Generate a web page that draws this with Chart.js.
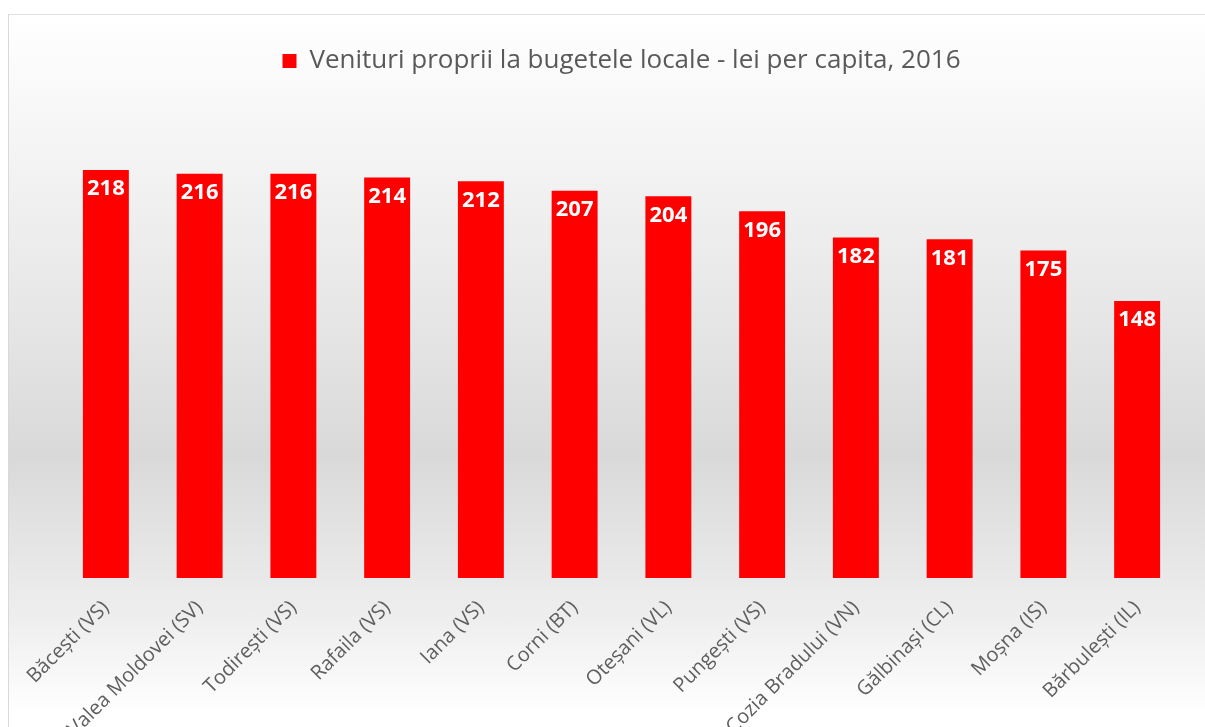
<!DOCTYPE html>
<html lang="ro">
<head>
    <meta charset="UTF-8">
    <title>Venituri proprii la bugetele locale</title>
    <script src="https://cdn.jsdelivr.net/npm/chart.js"></script>
    <style>
        body {
            margin: 0;
            padding: 0;
            background: #ffffff;
            overflow: hidden;
            font-family: 'Open Sans', sans-serif;
        }
        .chart-box {
            position: absolute;
            left: 8px;
            top: 14px;
            width: 1240px;
            height: 760px;
            border-left: 1px solid #d9d9d9;
            border-top: 1px solid #e3e3e3;
            background: linear-gradient(to bottom, #ffffff 0%, #f4f4f4 18%, #e6e6e6 40%, #d9d9d9 58%, #efefef 80%, #ffffff 92%);
        }
    </style>
</head>
<body>
    <div class="chart-box">
        <canvas id="grafic"></canvas>
    </div>
    <script>
        const localitati = ['Băcești (VS)', 'Valea Moldovei (SV)', 'Todirești (VS)', 'Rafaila (VS)', 'Iana (VS)', 'Corni (BT)',
            'Oteșani (VL)', 'Pungești (VS)', 'Cozia Bradului (VN)', 'Gălbinași (CL)', 'Moșna (IS)', 'Bărbulești (IL)'];
        const venituri = [218, 216, 216, 214, 212, 207, 204, 196, 182, 181, 175, 148];
        const eticheta = 'Venituri proprii la bugetele locale - lei per capita, 2016';

        // etichete albe cu valoarea, in varful fiecarei bare
        const valoriPeBare = {
            id: 'valoriPeBare',
            afterDatasetsDraw(chart) {
                const ctx = chart.ctx;
                const meta = chart.getDatasetMeta(0);
                ctx.save();
                ctx.fillStyle = '#ffffff';
                ctx.font = 'bold 22px "Open Sans"';
                ctx.textAlign = 'center';
                ctx.textBaseline = 'middle';
                meta.data.forEach((bar, i) => {
                    ctx.fillText(venituri[i], bar.x, bar.y + 19);
                });
                ctx.restore();
            }
        };

        const ctx = document.getElementById('grafic').getContext('2d');
        new Chart(ctx, {
            type: 'bar',
            data: {
                labels: localitati,
                datasets: [{
                    label: eticheta,
                    data: venituri,
                    backgroundColor: '#ff0000',
                    borderWidth: 0,
                    categoryPercentage: 1,
                    barPercentage: 0.49
                }]
            },
            options: {
                responsive: true,
                maintainAspectRatio: false,
                animation: false,
                layout: {
                    padding: { left: 50, right: 65, top: 23, bottom: 0 }
                },
                plugins: {
                    legend: {
                        position: 'top',
                        labels: {
                            color: '#595959',
                            boxWidth: 14,
                            boxHeight: 14,
                            padding: 10,
                            font: { family: 'Open Sans', size: 26 }
                        }
                    },
                    tooltip: { enabled: false }
                },
                scales: {
                    x: {
                        grid: { display: false, drawTicks: false },
                        border: { display: false },
                        ticks: {
                            autoSkip: false,
                            minRotation: 45,
                            maxRotation: 45,
                            padding: 18,
                            color: '#5f5f5f',
                            font: { family: 'Open Sans', size: 20 }
                        },
                        afterFit(scale) {
                            scale.height = 197;
                            scale.paddingLeft = 0;
                            scale.paddingRight = 0;
                        }
                    },
                    y: {
                        display: false,
                        min: 0,
                        max: 264
                    }
                }
            },
            plugins: [valoriPeBare]
        });
    </script>
</body>
</html>
